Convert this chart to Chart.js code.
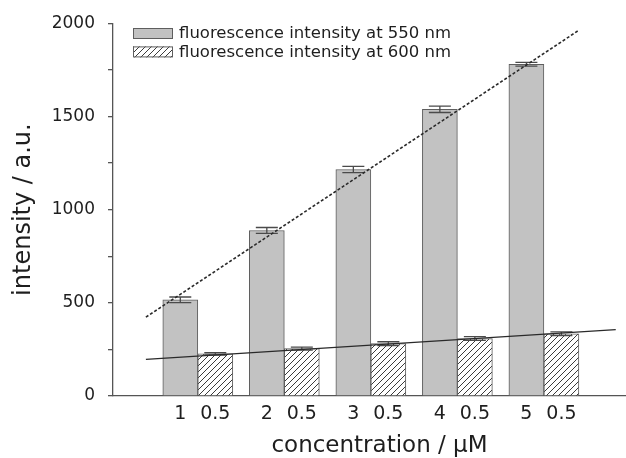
<!DOCTYPE html>
<html><head><meta charset="utf-8">
<script src="https://cdn.jsdelivr.net/npm/chart.js@4.4.1/dist/chart.umd.min.js"></script>
<style>html,body{margin:0;padding:0;overflow:hidden;background:#fff;width:626px;height:458px}canvas{display:block}</style>
</head><body>
<canvas id="c" width="646" height="458" style="width:646px;height:458px"></canvas>
<script>
// ---- data ----
const concentrations = [1, 2, 3, 4, 5];
const intensity550 = [516, 888, 1215, 1538, 1780];
const error550 = [15, 16, 17, 17, 10];
const intensity600 = [226, 254, 281, 308, 334];
const error600 = [6, 8, 10, 10, 10];
const tickLabels550 = ['1', '2', '3', '4', '5'];
const tickLabel600 = '0.5';
const fitLine550 = [{x: 0.40, y: 423}, {x: 5.40, y: 1961}];
const fitLine600 = [{x: 0.40, y: 197}, {x: 5.83, y: 356}];
const legendLabels = ['fluorescence intensity at 550 nm', 'fluorescence intensity at 600 nm'];

const FONT = '"DejaVu Sans", sans-serif';
const TEXT = '#1e1e1e';
const AXIS = '#555';
const BAR_W = 35;

const canvas = document.getElementById('c');
const ctx = canvas.getContext('2d');

function makeHatch() {
  const p = document.createElement('canvas');
  p.width = 6; p.height = 6;
  const g = p.getContext('2d');
  g.fillStyle = '#fff'; g.fillRect(0, 0, 6, 6);
  g.strokeStyle = '#3c3c3c'; g.lineWidth = 1;
  g.beginPath();
  g.moveTo(-1, 7); g.lineTo(7, -1);
  g.moveTo(-1, 1); g.lineTo(1, -1);
  g.moveTo(5, 7); g.lineTo(7, 5);
  g.stroke();
  return ctx.createPattern(p, 'repeat');
}
const hatch = makeHatch();

const errorBars = {
  id: 'errorBars',
  afterDatasetDraw(chart, args) {
    const ds = chart.data.datasets[args.index];
    if (!ds.errors) return;
    const c = chart.ctx, y = chart.scales.y;
    c.save();
    c.strokeStyle = '#4a4a4a';
    c.lineWidth = 1.3;
    args.meta.data.forEach((el, i) => {
      const v = ds.data[i].y, e = ds.errors[i];
      const x = el.x, hw = 11;
      const yt = y.getPixelForValue(v + e), yb = y.getPixelForValue(v - e);
      c.beginPath();
      c.moveTo(x, yt); c.lineTo(x, yb);
      c.moveTo(x - hw, yt); c.lineTo(x + hw, yt);
      c.moveTo(x - hw, yb); c.lineTo(x + hw, yb);
      c.stroke();
    });
    c.restore();
  }
};

const customLegend = {
  id: 'customLegend',
  afterDraw(chart) {
    const c = chart.ctx;
    const bars = chart.data.datasets.filter(d => d.type !== 'line');
    const x0 = chart.chartArea.left + 20, y0 = 28, rowH = 18.4, bw = 40, bh = 11;
    c.save();
    c.font = '16.5px ' + FONT;
    c.textBaseline = 'middle';
    bars.forEach((d, i) => {
      const y = y0 + i * rowH;
      c.fillStyle = d.backgroundColor;
      c.fillRect(x0, y, bw, bh);
      c.strokeStyle = d.borderColor;
      c.lineWidth = 1;
      c.strokeRect(x0 + 0.5, y + 0.5, bw - 1, bh - 1);
      c.fillStyle = TEXT;
      c.fillText(d.label, x0 + bw + 6, y + bh / 2 + 0.5);
    });
    c.restore();
  }
};

new Chart(ctx, {
  type: 'bar',
  data: {
    datasets: [
      {
        label: legendLabels[0],
        data: concentrations.map((c, i) => ({x: c, y: intensity550[i]})),
        errors: error550,
        backgroundColor: '#c2c2c2',
        borderColor: '#5e5e5e',
        borderWidth: 1,
        barThickness: BAR_W,
        order: 2
      },
      {
        label: legendLabels[1],
        data: concentrations.map((c, i) => ({x: c, y: intensity600[i]})),
        errors: error600,
        backgroundColor: hatch,
        borderColor: '#5e5e5e',
        borderWidth: 1,
        barThickness: BAR_W,
        order: 2
      },
      {
        type: 'line',
        label: 'fit 550',
        data: fitLine550,
        borderColor: '#2a2a2a',
        borderWidth: 1.6,
        borderDash: [3, 2],
        pointRadius: 0,
        fill: false,
        order: 0
      },
      {
        type: 'line',
        label: 'fit 600',
        data: fitLine600,
        borderColor: '#2a2a2a',
        borderWidth: 1.3,
        pointRadius: 0,
        fill: false,
        order: 0
      }
    ]
  },
  options: {
    responsive: false,
    animation: false,
    layout: {padding: {top: 21, right: 0, bottom: 0, left: 0}},
    plugins: {legend: {display: false}, tooltip: {enabled: false}},
    scales: {
      x: {
        type: 'linear',
        min: 0.02,
        max: 6.18,
        offset: false,
        grid: {display: false, drawTicks: false, offset: false},
        border: {display: true, color: AXIS, width: 1.3},
        afterBuildTicks(scale) {
          const px = scale.width / (scale.max - scale.min);
          const off = (BAR_W / 2) / (px || 86.5);
          scale.ticks = concentrations.flatMap(c => [{value: c - off}, {value: c + off}]);
        },
        afterFit(scale) { scale.height = 62; },
        ticks: {
          autoSkip: false,
          maxRotation: 0,
          padding: 7,
          color: TEXT,
          font: {family: FONT, size: 19},
          callback(value, index) { return index % 2 === 0 ? tickLabels550[index / 2] : tickLabel600; }
        },
        title: {
          display: true,
          text: 'concentration / µM',
          color: TEXT,
          font: {family: FONT, size: 23},
          padding: {top: 0, bottom: -2}
        }
      },
      y: {
        min: 0,
        max: 2000,
        afterFit(scale) { scale.width = 113; },
        grid: {drawOnChartArea: false, drawTicks: true, tickLength: 5, color: AXIS, lineWidth: 1.3},
        border: {display: true, color: AXIS, width: 1.3},
        ticks: {
          stepSize: 250,
          padding: 13,
          color: TEXT,
          font: {family: FONT, size: 17},
          callback(value) { return value % 500 === 0 ? String(value) : ''; }
        },
        title: {
          display: true,
          text: 'intensity / a.u.',
          color: TEXT,
          font: {family: FONT, size: 24},
          padding: {top: 9, bottom: 0}
        }
      }
    }
  },
  plugins: [errorBars, customLegend]
});
</script>
</body></html>
